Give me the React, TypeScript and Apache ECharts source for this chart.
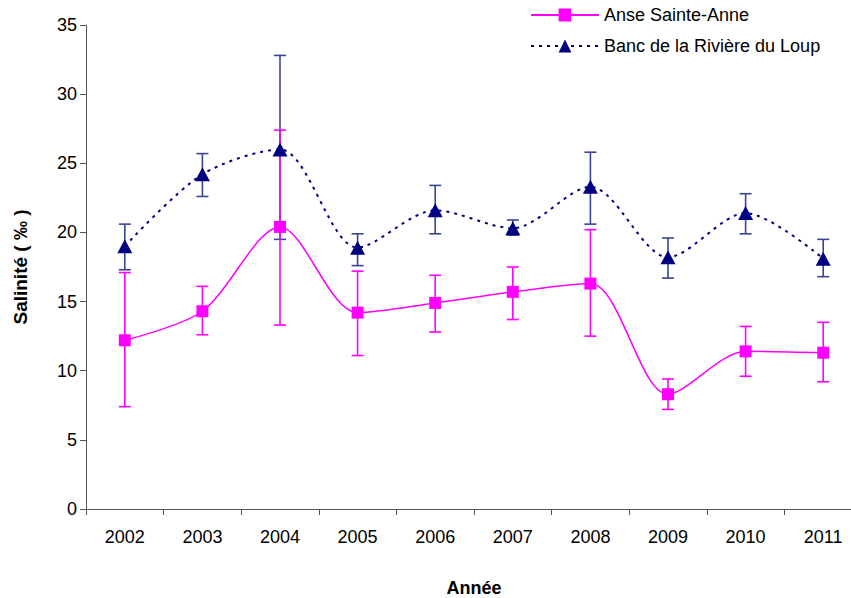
import React, { useEffect, useRef } from "react";
import * as echarts from "echarts";

const years = ["2002", "2003", "2004", "2005", "2006", "2007", "2008", "2009", "2010", "2011"];

const anseMean = [12.2, 14.3, 20.4, 14.2, 14.9, 15.7, 16.3, 8.3, 11.4, 11.3];
const anseLow = [7.4, 12.6, 13.3, 11.1, 12.8, 13.7, 12.5, 7.2, 9.6, 9.2];
const anseHigh = [17.1, 16.1, 27.4, 17.2, 16.9, 17.5, 20.2, 9.4, 13.2, 13.5];

const loupMean = [19.0, 24.2, 26.0, 18.9, 21.6, 20.3, 23.3, 18.2, 21.4, 18.1];
const loupLow = [17.3, 22.6, 19.5, 17.6, 19.9, 19.8, 20.6, 16.7, 19.9, 16.8];
const loupHigh = [20.6, 25.7, 32.8, 19.9, 23.4, 20.9, 25.8, 19.6, 22.8, 19.5];

const yTicks = { min: 0, max: 35, interval: 5 };

const seriesNames = ["Anse Sainte-Anne", "Banc de la Rivière du Loup"];

const MAGENTA = "#FF00FF";
const NAVY = "#000080";
const NAVY_ERR = "#3c4496";

function errorSeries(low: number[], high: number[], color: string, z: number) {
  return {
    type: "custom",
    z,
    silent: true,
    renderItem: (params: any, api: any) => {
      const x = api.value(0);
      const pLo = api.coord([x, api.value(1)]);
      const pHi = api.coord([x, api.value(2)]);
      const w = 6;
      const style = { stroke: color, lineWidth: 1.6 };
      return {
        type: "group",
        children: [
          { type: "line", shape: { x1: pHi[0], y1: pHi[1], x2: pLo[0], y2: pLo[1] }, style },
          { type: "line", shape: { x1: pHi[0] - w, y1: pHi[1], x2: pHi[0] + w, y2: pHi[1] }, style },
          { type: "line", shape: { x1: pLo[0] - w, y1: pLo[1], x2: pLo[0] + w, y2: pLo[1] }, style },
        ],
      };
    },
    data: low.map((l, i) => [i, l, high[i]]),
  };
}

export default function App() {
  const ref = useRef<HTMLDivElement>(null);
  useEffect(() => {
    if (!ref.current) return;
    const chart = echarts.init(ref.current, null, { renderer: "svg" });
    const font = "'Liberation Sans', Arial, sans-serif";
    chart.setOption({
      animation: false,
      backgroundColor: "#ffffff",
      textStyle: { fontFamily: font },
      grid: { left: 86, top: 25, width: 776, height: 484, containLabel: false, outerBoundsMode: "none" },
      legend: {
        data: [seriesNames[0], seriesNames[1]],
        orient: "vertical",
        left: 525,
        top: 1,
        itemWidth: 68,
        itemHeight: 16,
        itemGap: 13,
        textStyle: { fontSize: 18, color: "#000", fontFamily: font },
      },
      xAxis: {
        type: "category",
        data: years,
        boundaryGap: true,
        name: "Année",
        nameLocation: "middle",
        nameGap: 70,
        nameTextStyle: { fontSize: 18, fontWeight: "bold", color: "#000", fontFamily: font },
        axisLine: { lineStyle: { color: "#555", width: 1 } },
        axisTick: { show: true, length: 6, inside: false, lineStyle: { color: "#555" } },
        axisLabel: { fontSize: 18, color: "#000", margin: 19, fontFamily: font },
        splitLine: { show: false },
      },
      yAxis: {
        type: "value",
        min: yTicks.min,
        max: yTicks.max,
        interval: yTicks.interval,
        name: "Salinité ( ‰ )",
        nameLocation: "middle",
        nameGap: 56,
        nameTextStyle: { fontSize: 19, fontWeight: "bold", color: "#000", fontFamily: font },
        axisLine: { show: true, lineStyle: { color: "#555", width: 1 } },
        axisTick: { show: true, length: 6, lineStyle: { color: "#555" } },
        axisLabel: { fontSize: 18, color: "#000", margin: 9, fontFamily: font },
        splitLine: { show: false },
      },
      series: [
        errorSeries(loupLow, loupHigh, NAVY_ERR, 1),
        errorSeries(anseLow, anseHigh, MAGENTA, 2),
        {
          name: seriesNames[1],
          type: "line",
          z: 3,
          data: loupMean,
          smooth: 0.3,
          symbol: "triangle",
          symbolSize: [15, 14],
          itemStyle: { color: NAVY },
          lineStyle: { color: NAVY, width: 2, type: [3, 5] },
        },
        {
          name: seriesNames[0],
          type: "line",
          z: 4,
          data: anseMean,
          smooth: 0.3,
          symbol: "rect",
          symbolSize: 12,
          itemStyle: { color: MAGENTA },
          lineStyle: { color: MAGENTA, width: 1.5 },
        },
      ],
    });
    return () => chart.dispose();
  }, []);
  return <div ref={ref} style={{ width: 851, height: 598, position: "absolute", left: 0, top: 0 }} />;
}
